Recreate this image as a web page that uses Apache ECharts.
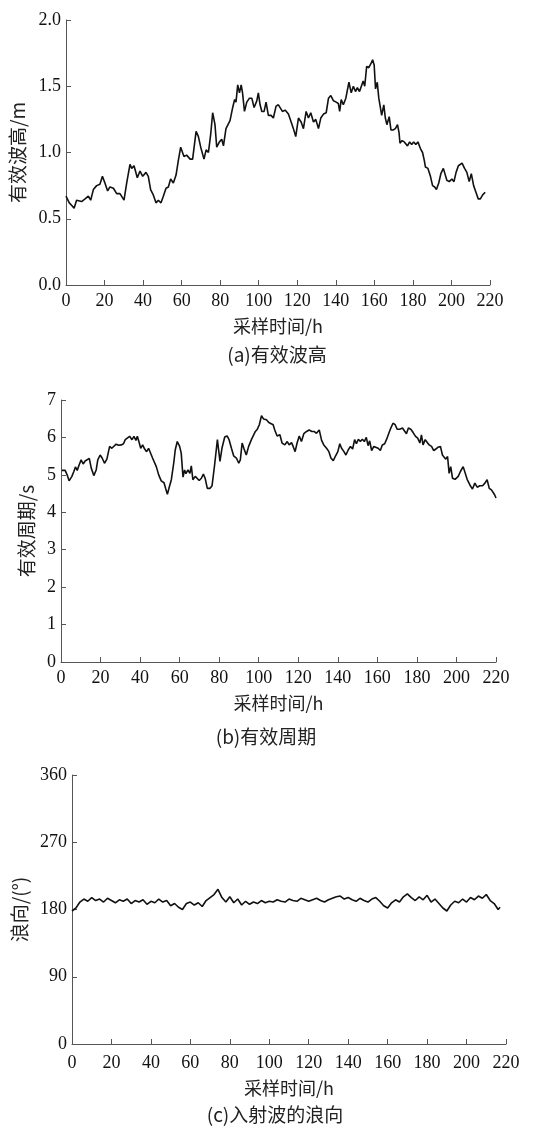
<!DOCTYPE html>
<html>
<head>
<meta charset="utf-8">
<title>波浪要素</title>
<script src="https://cdn.jsdelivr.net/npm/echarts@6/dist/echarts.min.js"></script>
<style>
  html, body { margin: 0; padding: 0; background: #fff; }
  #main { width: 536px; height: 1129px; }
</style>
</head>
<body>
<div id="main"></div>
<script>
// (a) 有效波高
var hoursA = [0, 1.7, 3, 4.2, 5.5, 6.4, 8.1, 9.9, 11.6, 12.8, 14.2, 15.9, 17.6, 18.9, 20.2, 21.6, 22.8, 24.6, 26.3, 28,
  30.1, 31.5, 33.2, 34.1, 35.3, 37, 38.4, 39.8, 41.5, 42.7, 43.9, 45.3, 46.7, 47.9, 49.3, 50.5, 51.9, 53.1, 54.3, 55.7,
  57.1, 58.3, 59.5, 61.2, 62.6, 64.4, 65.7, 67.5, 68.7, 69.9, 71.6, 72.7, 73.9, 75.1, 76.1, 77.3, 78.2, 79.6, 80.8, 81.7,
  83, 85.1, 86.5, 87.5, 88.2, 89.1, 90, 90.9, 91.6, 92.6, 93.8, 95.2, 96.4, 97.6, 99, 99.8, 100.7, 101.6, 102.8, 103.8,
  105, 106.4, 107.6, 109, 110.2, 111.1, 112.3, 113.7, 115.4, 116.6, 118, 119.2, 120.6, 122, 123.2, 124.6, 125.8, 127, 128.4, 129.6,
  131, 132.2, 133.6, 135, 136.2, 137.4, 138.8, 140.2, 141.3, 142, 142.8, 143.9, 145.2, 146.8, 148, 149.1, 150.2, 151.2, 152.3, 153.1,
  154.2, 155, 156, 157.1, 158.2, 159.1, 159.9, 160.6, 161.5, 162.3, 163, 163.8, 164.9, 165.7, 166.5, 167.7, 168.6, 169.7, 170.9, 172,
  172.8, 173.3, 174.4, 175.5, 176.5, 177.2, 178.3, 179.4, 180.4, 181.5, 182.6, 183.9, 185, 185.9, 186.5, 187.8, 189.1, 190.2, 191.3, 192.2,
  193.4, 194.5, 195.8, 196.5, 197.6, 198.9, 200.2, 201.3, 202.4, 203.6, 204.4, 205.5, 206.8, 208, 209.2, 210.3, 211.5, 212.7, 213.9, 215,
  216.2, 217.5];
var waveHeight = [0.67, 0.62, 0.60, 0.58, 0.64, 0.65, 0.63, 0.65, 0.67, 0.64, 0.72, 0.75, 0.76, 0.82, 0.77, 0.71, 0.74, 0.73, 0.69, 0.69,
  0.64, 0.77, 0.91, 0.88, 0.90, 0.81, 0.86, 0.82, 0.85, 0.82, 0.72, 0.68, 0.62, 0.64, 0.62, 0.67, 0.73, 0.74, 0.80, 0.77,
  0.83, 0.94, 1.04, 0.97, 0.98, 0.95, 0.95, 1.16, 1.12, 1.04, 0.95, 1.02, 1.00, 1.14, 1.30, 1.21, 1.04, 1.08, 1.10, 1.05,
  1.18, 1.24, 1.34, 1.40, 1.38, 1.51, 1.45, 1.51, 1.45, 1.31, 1.38, 1.41, 1.41, 1.34, 1.39, 1.45, 1.36, 1.31, 1.31, 1.38,
  1.28, 1.28, 1.26, 1.35, 1.36, 1.35, 1.31, 1.32, 1.29, 1.24, 1.18, 1.12, 1.26, 1.23, 1.18, 1.31, 1.26, 1.30, 1.23, 1.25,
  1.18, 1.26, 1.29, 1.30, 1.41, 1.43, 1.39, 1.38, 1.37, 1.31, 1.40, 1.36, 1.41, 1.53, 1.45, 1.50, 1.46, 1.49, 1.46, 1.46,
  1.54, 1.50, 1.65, 1.64, 1.67, 1.70, 1.66, 1.48, 1.53, 1.41, 1.35, 1.28, 1.36, 1.26, 1.21, 1.27, 1.17, 1.17, 1.18, 1.21,
  1.15, 1.07, 1.09, 1.08, 1.09, 1.05, 1.08, 1.06, 1.08, 1.06, 1.08, 1.03, 1.00, 0.94, 0.89, 0.88, 0.82, 0.75, 0.74, 0.72,
  0.77, 0.84, 0.88, 0.87, 0.79, 0.78, 0.80, 0.78, 0.85, 0.90, 0.90, 0.92, 0.88, 0.85, 0.78, 0.84, 0.75, 0.70, 0.65, 0.65,
  0.68, 0.70];

// (b) 有效周期
var hoursB = [0.4, 2.1, 3.1, 4.1, 5.5, 6.5, 7.3, 8.2, 9.2, 10.2, 11.2, 12.2, 13.2, 14.3, 15.3, 16.6, 17.8, 18.6, 19.8, 20.8,
  22, 23.2, 24.6, 25.7, 26.7, 27.9, 29.1, 30.5, 31.6, 32.5, 33.5, 34.7, 35.9, 36.9, 37.9, 38.6, 39.6, 40.3, 41.3, 42.3,
  43.3, 44.3, 45.3, 46.3, 47, 48.2, 49.4, 50.7, 52.1, 52.9, 53.8, 54.6, 55.8, 57, 57.8, 58.8, 60, 60.8, 61.7, 62.5,
  63.2, 64.2, 65.2, 65.9, 66.7, 67.9, 68.9, 69.9, 71, 72, 72.9, 74, 75.4, 76.4, 77.7, 79.1, 80.4, 81.4, 82.8, 84,
  85, 86.2, 87.3, 88.7, 89.9, 90.7, 91.6, 92.6, 93.7, 94.9, 96.3, 97.3, 98.3, 99.3, 100.3, 101.4, 102.5, 103.9, 105.1, 106.1,
  107.3, 108.1, 109.3, 110.7, 111.8, 113.2, 114.4, 115.4, 116.6, 117.4, 118.4, 119.4, 120.5, 121.6, 122.8, 124.2, 125.5, 126.9, 128, 129.2,
  130.6, 131.8, 132.9, 134.3, 135.5, 136.5, 137.7, 138.9, 140, 141, 141.9, 143.1, 144.1, 145.3, 146.4, 147.5, 148.5, 149.4, 150.4,
  151.4, 152.4, 153.4, 154.4, 155.3, 156.1, 157.1, 158.2, 159.2, 160.4, 161.5, 162.5, 163.7, 164.6, 165.8, 166.8, 167.9, 169, 170,
  171.3, 172.7, 173.7, 174.7, 175.7, 176.9, 178.1, 179.3, 180.4, 181.5, 182.3, 183.1, 184.2, 185.2, 186.2, 187.4, 188.5, 189.6, 190.7,
  191.9, 192.9, 193.8, 194.6, 195.5, 196.3, 197.1, 198, 199.3, 200.9, 202, 203.4, 204.4, 205.4, 206.8, 208.1, 209.3, 210.5, 211.8,
  213.2, 214.4, 215.5, 216.6, 217.7, 218.5, 219.3, 220];
var wavePeriod = [5.12, 5.12, 5.00, 4.84, 4.96, 5.09, 5.21, 5.12, 5.27, 5.40, 5.29, 5.37, 5.38, 5.44, 5.18, 4.98, 5.13, 5.40, 5.53, 5.45,
  5.31, 5.42, 5.76, 5.71, 5.76, 5.82, 5.79, 5.80, 5.83, 5.94, 5.98, 6.03, 5.94, 6.03, 5.92, 6.03, 5.85, 5.71, 5.80, 5.69,
  5.62, 5.71, 5.67, 5.45, 5.49, 5.22, 5.00, 4.84, 4.79, 4.64, 4.48, 4.64, 4.87, 5.31, 5.67, 5.89, 5.76, 5.58, 4.94, 5.13,
  5.03, 5.13, 5.04, 5.24, 4.87, 4.96, 4.91, 4.85, 4.91, 5.02, 4.91, 4.64, 4.64, 4.71, 5.27, 5.94, 5.36, 5.71, 6.01, 6.04,
  5.94, 5.71, 5.51, 5.45, 5.31, 5.40, 5.85, 5.69, 5.53, 5.76, 5.94, 5.89, 6.16, 6.22, 6.34, 6.58, 6.49, 6.47, 6.40, 6.43,
  6.34, 6.20, 6.04, 6.07, 5.85, 5.80, 5.89, 5.80, 5.86, 5.76, 5.62, 5.85, 6.04, 5.89, 6.10, 6.16, 6.20, 6.16, 6.16, 6.11,
  6.20, 5.92, 5.80, 5.71, 5.62, 5.45, 5.38, 5.51, 5.62, 5.83, 5.71, 5.62, 5.53, 5.67, 5.76, 5.69, 5.94, 5.83, 5.95,
  5.89, 5.95, 5.89, 6.00, 5.78, 5.91, 5.65, 5.76, 5.80, 5.71, 5.65, 5.80, 5.83, 5.94, 6.11, 6.25, 6.38, 6.34, 6.22,
  6.22, 6.25, 6.29, 6.10, 6.25, 6.22, 6.13, 6.03, 5.98, 5.85, 6.07, 5.80, 5.94, 5.89, 5.80, 5.76, 5.65, 5.69, 5.74,
  5.76, 5.53, 5.58, 5.42, 5.49, 5.04, 5.22, 4.91, 4.88, 4.96, 5.09, 5.22, 5.21, 4.88, 4.73, 4.62, 4.78, 4.67, 4.71,
  4.71, 4.78, 4.87, 4.64, 4.60, 4.62, 4.47, 4.38];

// (c) 入射波的浪向
var hoursC = [0, 2, 4, 6, 8, 10, 12, 14, 16, 18, 20, 22, 24, 26, 28, 30, 32, 34, 36, 38,
  40, 42, 44, 46, 48, 50, 52, 54, 56, 58, 60, 62, 64, 66, 68, 70, 72, 74, 76, 78,
  80, 82, 84, 86, 88, 90, 92, 94, 96, 98, 100, 102, 104, 106, 108, 110, 112, 114, 116, 118,
  120, 122, 124, 126, 128, 130, 132, 134, 136, 138, 140, 142, 144, 146, 148, 150, 152, 154, 156, 158,
  160, 162, 164, 166, 168, 170, 172, 174, 176, 178, 180, 182, 184, 186, 188, 190, 192, 194, 196, 198,
  200, 202, 204, 206, 208, 210, 212, 214, 216, 217];
var waveDir = [178, 182, 190, 194, 191, 196, 192, 194, 190, 195, 192, 189, 193, 191, 194, 188, 192, 190, 193, 187,
  191, 189, 194, 190, 192, 185, 188, 183, 180, 188, 190, 186, 189, 184, 192, 196, 200, 207, 196, 190,
  197, 189, 194, 186, 191, 187, 190, 188, 192, 189, 191, 190, 193, 191, 190, 194, 192, 191, 195, 193,
  191, 193, 195, 192, 190, 193, 195, 197, 198, 194, 196, 193, 191, 195, 192, 190, 194, 196, 191, 185,
  182, 189, 193, 190, 197, 201, 196, 192, 197, 193, 199, 190, 194, 188, 182, 178, 186, 191, 189, 194,
  190, 196, 193, 198, 195, 200, 192, 188, 180, 183];

var xTicks = { min: 0, max: 220, interval: 20 };

function pairs(xs, ys) {
  var out = [];
  for (var i = 0; i < xs.length; i++) {
    out.push([xs[i], ys[i]]);
  }
  return out;
}

var numFont = 'Liberation Serif';
var cnFont = '"Noto Sans CJK SC", sans-serif';
var axisColor = '#555';

function makeX(gridIndex, labelMargin, nameGap) {
  return {
    type: 'value',
    gridIndex: gridIndex,
    min: xTicks.min,
    max: xTicks.max,
    interval: xTicks.interval,
    name: '采样时间/h',
    nameLocation: 'middle',
    nameGap: nameGap,
    nameTextStyle: { color: '#222', fontSize: 18, fontFamily: cnFont },
    axisLine: { lineStyle: { color: axisColor, width: 1 } },
    axisTick: { inside: true, length: 5, lineStyle: { color: axisColor } },
    axisLabel: { color: '#111', fontSize: 18, fontFamily: numFont, margin: labelMargin },
    splitLine: { show: false }
  };
}

function makeY(gridIndex, name, min, max, interval, fmt, nameGap) {
  return {
    type: 'value',
    gridIndex: gridIndex,
    min: min,
    max: max,
    interval: interval,
    name: name,
    nameLocation: 'middle',
    nameRotate: 90,
    nameGap: nameGap,
    nameTextStyle: { color: '#222', fontSize: 19, fontFamily: cnFont },
    axisLine: { show: true, lineStyle: { color: axisColor, width: 1 } },
    axisTick: { show: true, inside: true, length: 5, lineStyle: { color: axisColor } },
    axisLabel: { color: '#111', fontSize: 18, fontFamily: numFont, margin: 5, formatter: fmt },
    splitLine: { show: false }
  };
}

function makeLine(idx, data) {
  return {
    type: 'line',
    xAxisIndex: idx,
    yAxisIndex: idx,
    data: data,
    showSymbol: false,
    symbol: 'none',
    animation: false,
    lineStyle: { color: '#111', width: 1.6 }
  };
}

function caption(text, x, y) {
  return {
    type: 'text',
    x: x,
    y: y,
    style: {
      text: text,
      fill: '#222',
      font: '19px ' + cnFont,
      textAlign: 'center',
      textVerticalAlign: 'middle'
    }
  };
}

var chart = echarts.init(document.getElementById('main'));
var option = {
  backgroundColor: '#fff',
  animation: false,
  grid: [
    { left: 66, top: 20, width: 424, height: 265 },
    { left: 61, top: 400, width: 435, height: 262 },
    { left: 72, top: 775, width: 434, height: 269 }
  ],
  xAxis: [makeX(0, 7, 32), makeX(1, 7, 32), makeX(2, 10, 35)],
  yAxis: [
    makeY(0, '有效波高/m', 0, 2, 0.5, function (v) { return v.toFixed(1); }, 34),
    makeY(1, '有效周期/s', 0, 7, 1, null, 24),
    makeY(2, '浪向/(°)', 0, 360, 90, null, 37)
  ],
  series: [
    makeLine(0, pairs(hoursA, waveHeight)),
    makeLine(1, pairs(hoursB, wavePeriod)),
    makeLine(2, pairs(hoursC, waveDir))
  ],
  graphic: [
    caption('(a)有效波高', 277, 355),
    caption('(b)有效周期', 266, 737),
    caption('(c)入射波的浪向', 275, 1115)
  ]
};
chart.setOption(option);
</script>
</body>
</html>
